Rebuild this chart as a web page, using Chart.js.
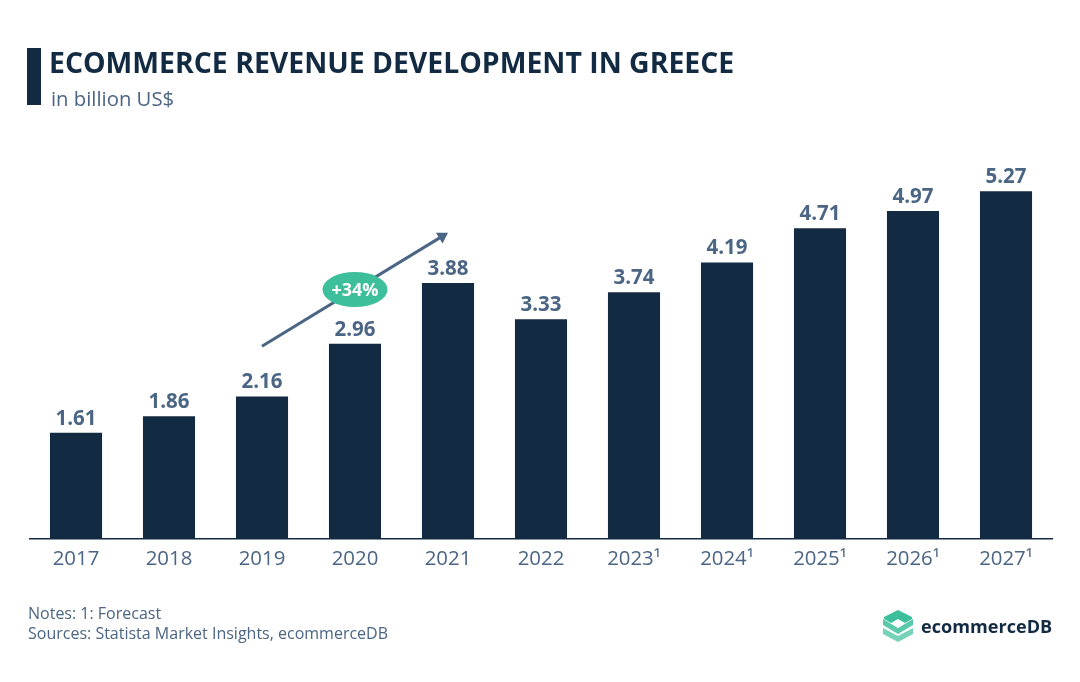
<!DOCTYPE html>
<html>
<head>
<meta charset="utf-8">
<title>Ecommerce revenue development in Greece</title>
<script src="https://cdn.jsdelivr.net/npm/chart.js@4"></script>
<style>
  html, body { margin: 0; padding: 0; background: #fff; }
  body { width: 1080px; height: 682px; position: relative; overflow: hidden; font-family: "Open Sans", sans-serif; }
  canvas { position: absolute; left: 0; top: 0; }
  .abs { position: absolute; white-space: nowrap; }
  #bar { left: 27px; top: 48px; width: 14px; height: 57px; background: #132a43; }
  #title { left: 49px; top: 43px; font-size: 28.4px; line-height: 38px; font-weight: 700; color: #132a43; }
  #subtitle { left: 51px; top: 85px; font-size: 20.3px; line-height: 26px; color: #4b6584; }
  #notes { left: 28px; top: 603px; font-size: 16px; line-height: 20px; color: #4b6584; }
  #brand { left: 921px; top: 612px; font-size: 18.1px; line-height: 28px; font-weight: 700; color: #132a43; }
  #logo { left: 883px; top: 610px; }
</style>
</head>
<body>
<canvas id="chart" width="1080" height="682"></canvas>
<div class="abs" id="bar"></div>
<div class="abs" id="title">ECOMMERCE REVENUE DEVELOPMENT IN GREECE</div>
<div class="abs" id="subtitle">in billion US$</div>
<div class="abs" id="notes">Notes: 1: Forecast<br>Sources: Statista Market Insights, ecommerceDB</div>
<svg class="abs" id="logo" width="30" height="32" viewBox="0 0 30 32">
  <path d="M15 0 L29 7 L29 9 L22 13 L15 9 L8 13 L1 9 L1 7 Z" fill="#3dbf9c"/>
  <path d="M0 9 L15 18 L30 9 L30 15 L15 24 L0 15 Z" fill="#3dbf9c" opacity="0.85"/>
  <path d="M0 18 L15 26 L30 18 L30 24 L15 32 L0 24 Z" fill="#3dbf9c" opacity="0.7"/>
</svg>
<div class="abs" id="brand">ecommerceDB</div>
<script>
const years = ['2017', '2018', '2019', '2020', '2021', '2022', '2023¹', '2024¹', '2025¹', '2026¹', '2027¹'];
const revenue = [1.61, 1.86, 2.16, 2.96, 3.88, 3.33, 3.74, 4.19, 4.71, 4.97, 5.27];
const growthLabel = '+34%';
const growthFrom = [2, 2.92];
const growthTo = [4, 4.64];

const navy = '#132a43';
const slate = '#4b6584';
const green = '#3dbf9c';

// value labels above the bars, and the growth arrow
const extras = {
  id: 'extras',
  afterDatasetsDraw(chart) {
    const { ctx, scales: { x, y } } = chart;
    ctx.save();
    ctx.font = '700 20.5px "Open Sans"';
    ctx.fillStyle = slate;
    ctx.textAlign = 'center';
    ctx.textBaseline = 'alphabetic';
    revenue.forEach((v, i) => {
      ctx.fillText(v.toFixed(2), x.getPixelForValue(i), y.getPixelForValue(v) - 8);
    });

    const x0 = x.getPixelForValue(growthFrom[0]);
    const y0 = y.getPixelForValue(growthFrom[1]);
    const x1 = x.getPixelForValue(growthTo[0]);
    const y1 = y.getPixelForValue(growthTo[1]);
    const a = Math.atan2(y1 - y0, x1 - x0);
    ctx.strokeStyle = slate;
    ctx.lineWidth = 3;
    ctx.beginPath();
    ctx.moveTo(x0, y0);
    ctx.lineTo(x1 - 6 * Math.cos(a), y1 - 6 * Math.sin(a));
    ctx.stroke();
    ctx.beginPath();
    ctx.moveTo(x1, y1);
    ctx.lineTo(x1 - 12 * Math.cos(a - 0.55), y1 - 12 * Math.sin(a - 0.55));
    ctx.lineTo(x1 - 12 * Math.cos(a + 0.55), y1 - 12 * Math.sin(a + 0.55));
    ctx.closePath();
    ctx.fillStyle = slate;
    ctx.fill();

    // the badge sits on the arrow, over 2020
    const bx = x.getPixelForValue(3);
    const by = y0 + (y1 - y0) * (bx - x0) / (x1 - x0);
    ctx.fillStyle = green;
    ctx.beginPath();
    ctx.ellipse(bx, by, 32.5, 17.5, 0, 0, Math.PI * 2);
    ctx.fill();
    ctx.fillStyle = '#fff';
    ctx.font = '700 18px "Open Sans"';
    ctx.textBaseline = 'middle';
    ctx.fillText(growthLabel, bx, by + 1);
    ctx.restore();
  }
};

new Chart(document.getElementById('chart'), {
  type: 'bar',
  data: {
    labels: years,
    datasets: [{
      data: revenue,
      backgroundColor: navy,
      barPercentage: 1,
      categoryPercentage: 0.56
    }]
  },
  options: {
    responsive: false,
    animation: false,
    layout: { padding: { left: 29.5, right: 27.5, top: 143, bottom: 0 } },
    plugins: { legend: { display: false }, tooltip: { enabled: false } },
    scales: {
      x: {
        afterFit(scale) { scale.height = 143; },
        grid: { display: false, drawTicks: false },
        border: { color: navy, width: 1.5 },
        ticks: { color: slate, font: { family: 'Open Sans', size: 20.4 }, padding: 8, maxRotation: 0 }
      },
      y: { display: false, min: 0, max: 6 }
    }
  },
  plugins: [extras]
});
</script>
</body>
</html>
